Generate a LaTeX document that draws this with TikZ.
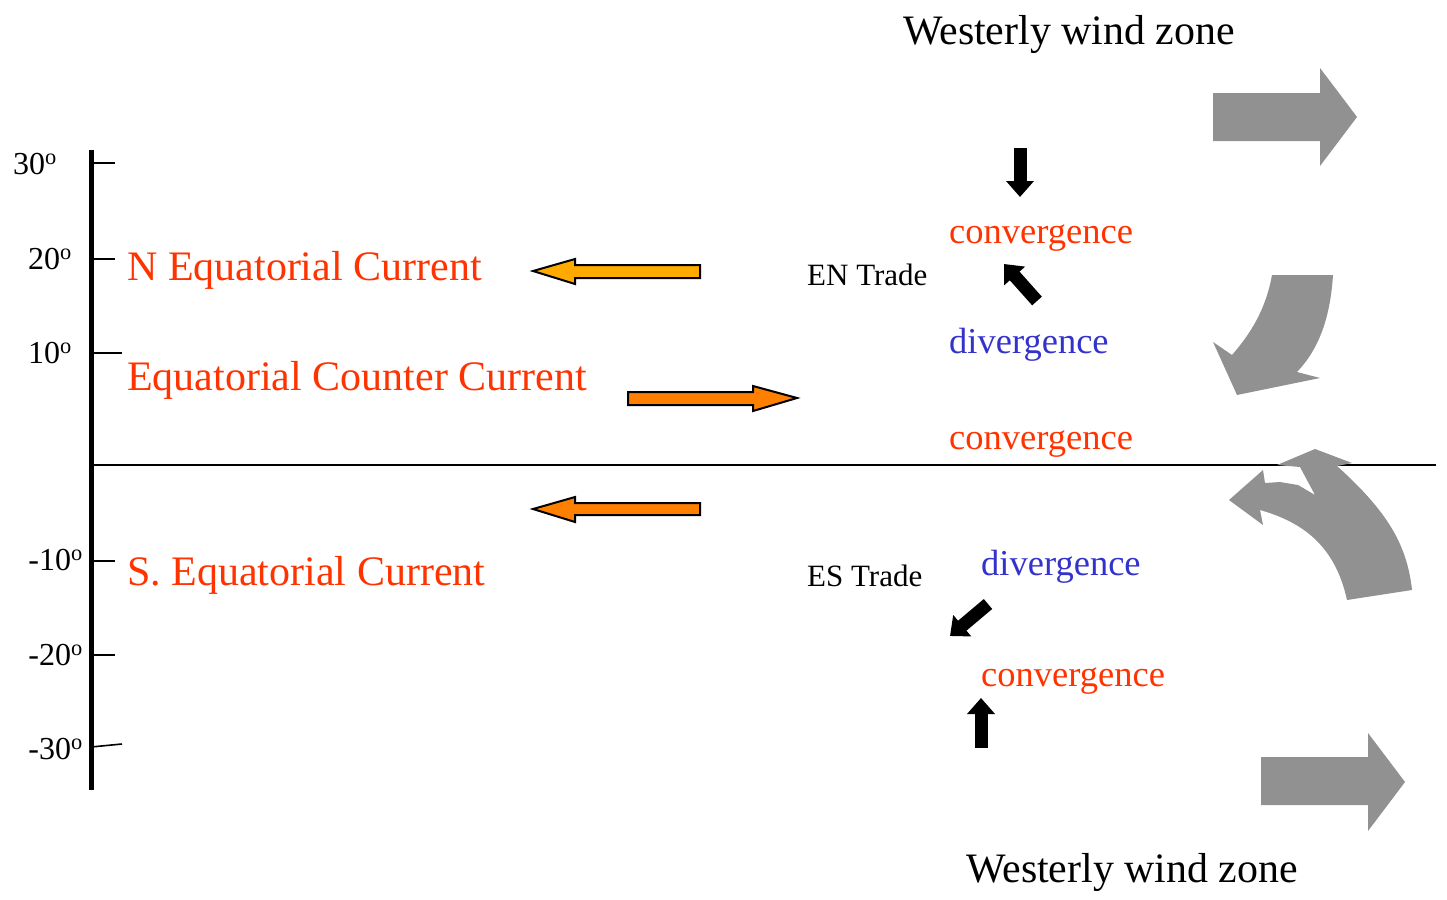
\documentclass[tikz,border=0pt]{standalone}
\usepackage{fontspec}
\setmainfont{Liberation Serif}
\usetikzlibrary{arrows.meta}
\definecolor{curred}{RGB}{255,51,0}
\definecolor{divblue}{RGB}{51,51,204}
\definecolor{gold}{RGB}{255,170,0}
\definecolor{orng}{RGB}{255,128,0}
\definecolor{windgray}{RGB}{145,145,145}
\tikzset{
  big/.style={font=\fontsize{41.9}{48}\selectfont, inner sep=0pt, anchor=base west},
  cur/.style={inner sep=0pt, anchor=base west, text=curred, font=\fontsize{42}{48}\selectfont},
  mid/.style={font=\fontsize{36.5}{42}\selectfont, inner sep=0pt, anchor=base west},
  trade/.style={font=\fontsize{31}{36}\selectfont, inner sep=0pt, anchor=base west},
  deg/.style={font=\fontsize{32}{36}\selectfont, inner sep=0pt, anchor=base east},
  tick/.style={line width=1.6pt},
  oarrow/.style={draw=black, line width=2pt, line join=miter},
  garrow/.style={fill=windgray, draw=none},
  barrow/.style={line width=13pt, -{Triangle[width=27pt,length=16pt]}},
}
\begin{document}
\begin{tikzpicture}[x=1pt,y=-1pt]
\useasboundingbox (0,0) rectangle (1447,899);
% axis
\coordinate (axtop) at (91,150);
\coordinate (axbot) at (91,790);
\draw[line width=5pt] (axtop) -- (axbot);
\draw[tick] (91,163) -- (115,163);
\draw[tick] (91,259) -- (115,259);
\draw[tick] (91,353) -- (122,353);
\draw[tick] (91,561) -- (115,561);
\draw[tick] (91,655) -- (115,655);
\draw[tick] (91,747) -- (122,744);
\node[deg] (l30) at (57,174) {30\textsuperscript{o}};
\node[deg] (l20) at (72,269) {20\textsuperscript{o}};
\node[deg] (l10) at (72,363) {10\textsuperscript{o}};
\node[deg] (lm10) at (83,570) {-10\textsuperscript{o}};
\node[deg] (lm20) at (83,665) {-20\textsuperscript{o}};
\node[deg] (lm30) at (83,759) {-30\textsuperscript{o}};
% equator
\coordinate (eqL) at (91,465);
\coordinate (eqR) at (1436,465);
\draw[line width=1.5pt] (eqL) -- (eqR);
% current labels
\node[cur] (nec) at (127,280) {N Equatorial Current};
\node[cur] (ecc) at (127,390) {Equatorial Counter Current};
\node[cur] (sec) at (127,585) {S. Equatorial Current};
% orange arrows
\fill[gold] (700,265)--(575,265)--(575,259)--(533,271)--(575,284)--(575,278)--(700,278)--cycle;
\draw[oarrow] (700,265)--(575,265)--(575,259)--(533,271)--(575,284)--(575,278)--(700,278)--cycle;
\fill[orng] (628,392)--(753,392)--(753,386)--(797,398)--(753,411)--(753,405)--(628,405)--cycle;
\draw[oarrow] (628,392)--(753,392)--(753,386)--(797,398)--(753,411)--(753,405)--(628,405)--cycle;
\fill[orng] (700,503)--(575,503)--(575,497)--(533,509)--(575,522)--(575,515)--(700,515)--cycle;
\draw[oarrow] (700,503)--(575,503)--(575,497)--(533,509)--(575,522)--(575,515)--(700,515)--cycle;
% trades
\node[trade] (ent) at (807,285) {EN Trade};
\node[trade] (est) at (807,586) {ES Trade};
% convergence / divergence
\node[mid, text=curred] (c1) at (949,243) {convergence};
\node[mid, text=divblue] (d1) at (949,353) {divergence};
\node[mid, text=curred] (c2) at (949,449) {convergence};
\node[mid, text=divblue] (d2) at (981,575) {divergence};
\node[mid, text=curred] (c3) at (981,686) {convergence};
% black arrows
\coordinate (a1s) at (1020,148); \coordinate (a1e) at (1020,197);
\draw[barrow] (a1s) -- (a1e);
\coordinate (a2s) at (1037,301); \coordinate (a2e) at (1004,264);
\draw[barrow] (a2s) -- (a2e);
\coordinate (a3s) at (988,604); \coordinate (a3e) at (950,636);
\draw[barrow] (a3s) -- (a3e);
\coordinate (a4s) at (981,748); \coordinate (a4e) at (981,698);
\draw[barrow] (a4s) -- (a4e);
% gray wind arrows
\fill[garrow] (1213,93)--(1320,93)--(1320,68)--(1357,117)--(1320,166)--(1320,141)--(1213,141)--cycle;
\fill[garrow] (1261,757)--(1368,757)--(1368,733)--(1405,782)--(1368,831)--(1368,805)--(1261,805)--cycle;
\fill[garrow] (1272,275) -- (1333,275) .. controls (1330,320) and (1318,350) .. (1297,372)
  -- (1320,378) -- (1237,395) -- (1213,342) -- (1232,355)
  .. controls (1252,332) and (1266,308) .. (1272,275) -- cycle;
\fill[garrow] (1347,600) -- (1412,590) .. controls (1407,545) and (1388,512) .. (1337,466)
  -- (1352,463) -- (1315,449) -- (1277,465) -- (1300,467) -- (1315,495)
  -- (1298,485) -- (1280,482) -- (1265,483) -- (1263,470) -- (1229,500) -- (1263,525) -- (1260,510)
  .. controls (1302,522) and (1335,545) .. (1347,600) -- cycle;
% wind zone labels
\node[big] (wz1) at (903,45) {Westerly wind zone};
\node[big] (wz2) at (966,882) {Westerly wind zone};
\end{tikzpicture}
\end{document}
